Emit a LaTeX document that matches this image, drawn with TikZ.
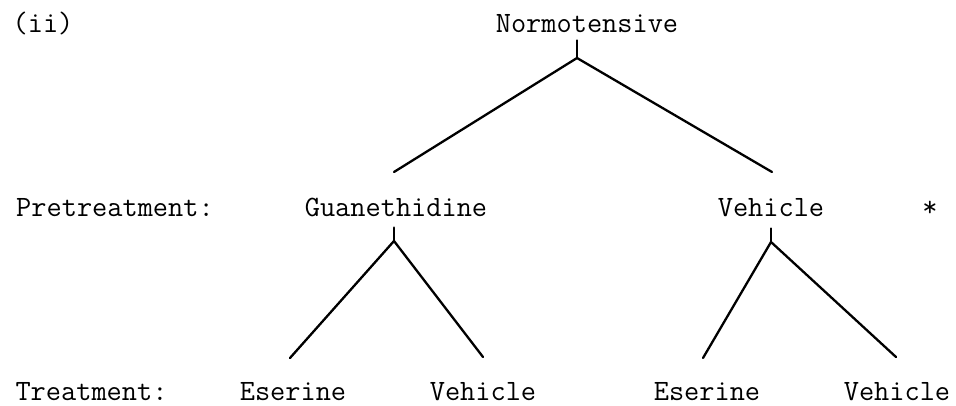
\documentclass[tikz,border=0pt]{standalone}
\usepackage{fontspec}
\begin{document}
\begin{tikzpicture}[x=1pt,y=-1pt,
  lbl/.style={font=\ttfamily\fontsize{29.5}{34}\selectfont, inner sep=0pt, anchor=base},
  branch/.style={line width=2.3pt, line cap=round, line join=miter}]
\useasboundingbox (0,0) rectangle (956,406);

% labels
\node[lbl] (ii)   at (43,33)    {(ii)};
\node[lbl] (root) at (587,33)   {Normotensive};
\node[lbl] (pre)  at (115,217)  {Pretreatment:};
\node[lbl] (guan) at (396,217)  {Guanethidine};
\node[lbl] (veh)  at (771,217)  {Vehicle};
\node[lbl] (star) at (930,217)  {*};
\node[lbl] (trt)  at (91.5,400) {Treatment:};
\node[lbl] (es1)  at (293,400)  {Eserine};
\node[lbl] (ve1)  at (483,400)  {Vehicle};
\node[lbl] (es2)  at (707,400)  {Eserine};
\node[lbl] (ve2)  at (897,400)  {Vehicle};

% branch points and leg ends
\coordinate (a0) at (577,58);
\coordinate (l0) at (394,172);
\coordinate (r0) at (772,172);
\coordinate (a1) at (394,241);
\coordinate (l1) at (290,358);
\coordinate (r1) at (483,357);
\coordinate (a2) at (771,242);
\coordinate (l2) at (703,358);
\coordinate (r2) at (896,357);

% stubs below the parent labels
\draw[branch, shorten <=7pt]  (root.south -| a0) -- (a0);
\draw[branch, shorten <=10pt] (guan.south -| a1) -- (a1);
\draw[branch, shorten <=11pt] (veh.south -| a2)  -- (a2);

% legs
\draw[branch] (l0) -- (a0) -- (r0);
\draw[branch] (l1) -- (a1) -- (r1);
\draw[branch] (l2) -- (a2) -- (r2);
\end{tikzpicture}
\end{document}
